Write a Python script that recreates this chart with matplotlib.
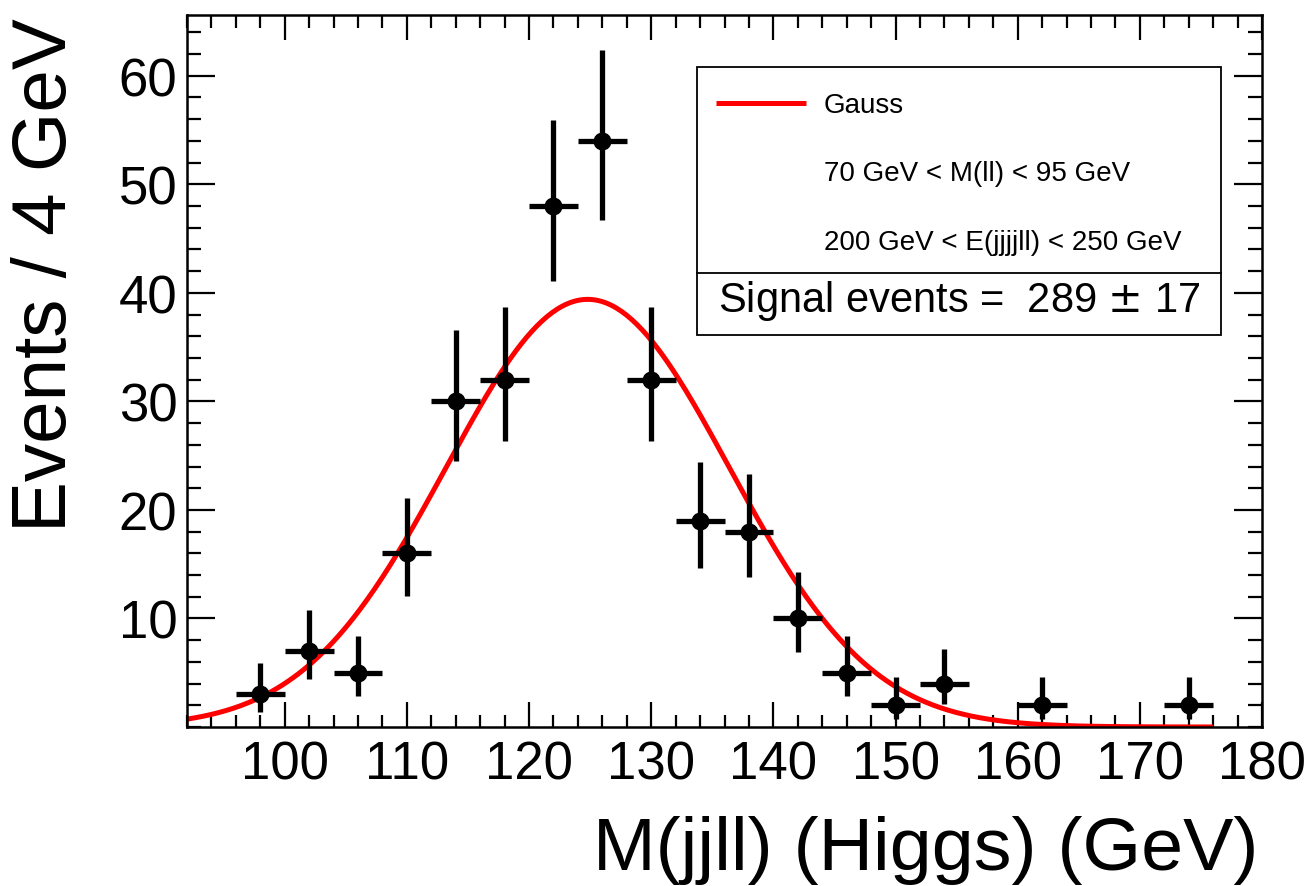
import numpy as np
import matplotlib
matplotlib.use("Agg")
import matplotlib.pyplot as plt
from matplotlib.patches import Rectangle
from matplotlib.lines import Line2D
from matplotlib.ticker import MultipleLocator, FixedLocator

plt.rcParams['font.family'] = ['Liberation Sans', 'DejaVu Sans']

# Binned M(jjll) spectrum, 4 GeV bins
bin_centers = [98, 102, 106, 110, 114, 118, 122, 126, 130, 134, 138, 142, 146, 150, 154, 162, 174]
counts = [3, 7, 5, 16, 30, 32, 48, 54, 32, 19, 18, 10, 5, 2, 4, 2, 2]
# Asymmetric (Poisson) uncertainties
err_low = [1.63, 2.58, 2.16, 3.97, 5.45, 5.63, 6.90, 7.33, 5.63, 4.32, 4.20, 3.11, 2.16, 1.29, 1.91, 1.29, 1.29]
err_high = [2.92, 3.77, 3.38, 5.10, 6.55, 6.74, 7.97, 8.40, 6.74, 5.43, 5.30, 4.27, 3.38, 2.64, 3.16, 2.64, 2.64]
bin_half_width = 2.0

# Gaussian fit result
gauss_amp = 39.4
gauss_mean = 124.8
gauss_sigma = 11.6
fit_range = (92, 176)

legend_lines = ["Gauss", "70 GeV < M(ll) < 95 GeV", "200 GeV < E(jjjjll) < 250 GeV"]
signal_text = "Signal events =  289 $\\pm$ 17"

W, H = 1306, 887
fig = plt.figure(figsize=(W / 100, H / 100), dpi=100)
ax = fig.add_axes([187 / W, 1 - 728 / H, (1262 - 187) / W, (728 - 16) / H])

xs = np.linspace(fit_range[0], fit_range[1], 400)
ys = gauss_amp * np.exp(-0.5 * ((xs - gauss_mean) / gauss_sigma) ** 2)
ax.plot(xs, ys, color='#ff0000', lw=3.6, zorder=2, solid_capstyle='butt')

ax.errorbar(bin_centers, counts, yerr=[err_low, err_high], xerr=bin_half_width,
            fmt='o', color='black', ms=12, elinewidth=3.8, capsize=0, zorder=3)

ax.set_xlim(92, 180)
ax.set_ylim(0, 65.6)

ax.xaxis.set_major_locator(MultipleLocator(10))
ax.xaxis.set_minor_locator(MultipleLocator(2))
ax.yaxis.set_major_locator(FixedLocator([10, 20, 30, 40, 50, 60]))
ax.yaxis.set_minor_locator(MultipleLocator(2))

ax.tick_params(axis='both', which='both', direction='in', top=True, right=True,
               width=1.6, colors='black', labelsize=38)
ax.tick_params(axis='x', which='major', length=18, pad=9)
ax.tick_params(axis='x', which='minor', length=9)
ax.tick_params(axis='y', which='major', length=20, pad=7)
ax.tick_params(axis='y', which='minor', length=10)
for sp in ax.spines.values():
    sp.set_linewidth(1.8)

fig.text(47 / W, 1 - 18 / H, "Events / 4 GeV", rotation=90, ha='center', va='top', fontsize=55)
fig.text(1258 / W, 1 - 870 / H, "M(jjll) (Higgs) (GeV)", ha='right', va='baseline', fontsize=54.3)

# Legend / info box
def fx(px):
    return px / W

def fy(py):
    return 1 - py / H

box = Rectangle((fx(697), fy(336)), fx(1221) - fx(697), fy(68) - fy(336),
                transform=fig.transFigure, fill=True, facecolor='white',
                edgecolor='black', lw=1.3, zorder=5)
fig.add_artist(box)
fig.add_artist(Line2D([fx(697), fx(1221)], [fy(274), fy(274)], transform=fig.transFigure,
                      color='black', lw=1.3, zorder=6))
fig.add_artist(Line2D([fx(716), fx(806)], [fy(104), fy(104)], transform=fig.transFigure,
                      color='#ff0000', lw=3.6, zorder=6, solid_capstyle='butt'))
for txt, py in zip(legend_lines, [106, 174, 243]):
    fig.text(fx(824), fy(py), txt, ha='left', va='center', fontsize=20, zorder=7)
fig.text(fx(959), fy(301), signal_text, ha='center', va='center', fontsize=30, zorder=7)

fig.savefig("out.png", dpi=100)
